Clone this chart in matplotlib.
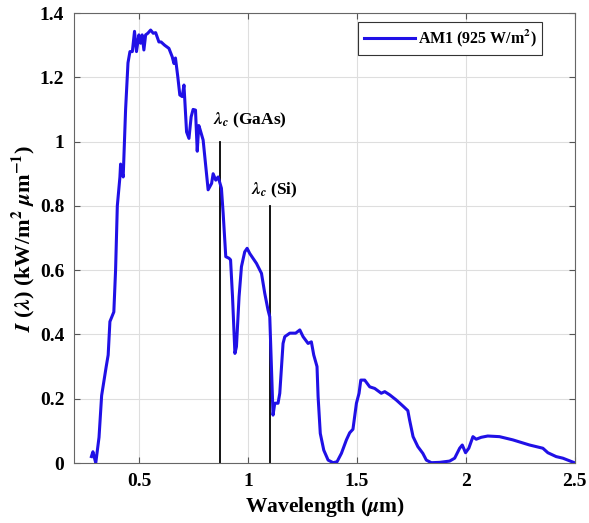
import matplotlib.pyplot as plt
import numpy as np

# AM1 spectrum (wavelength in um, irradiance in kW/m^2/um)
wl = [0.280, 0.287, 0.300, 0.315, 0.327, 0.348, 0.357, 0.365, 0.383, 0.391, 0.399,
      0.411, 0.414, 0.419, 0.426, 0.437, 0.448, 0.457, 0.468, 0.478, 0.487, 0.498,
      0.506, 0.513, 0.521, 0.529, 0.539, 0.552, 0.564, 0.575, 0.590, 0.600, 0.616,
      0.636, 0.651, 0.659, 0.666, 0.677, 0.686, 0.697, 0.705, 0.717, 0.728, 0.738,
      0.747, 0.758, 0.766, 0.773, 0.778, 0.793, 0.816, 0.832, 0.839, 0.851, 0.862,
      0.877, 0.885, 0.897, 0.912, 0.919, 0.928, 0.939, 0.946, 0.958, 0.969, 0.984,
      0.995, 1.007, 1.022, 1.038, 1.061, 1.076, 1.091, 1.099, 1.107, 1.114, 1.122,
      1.137, 1.145, 1.160, 1.168, 1.191, 1.218, 1.237, 1.252, 1.275, 1.290, 1.301,
      1.316, 1.321, 1.331, 1.347, 1.367, 1.390, 1.408, 1.428, 1.451, 1.466, 1.481,
      1.497, 1.509, 1.517, 1.535, 1.558, 1.581, 1.611, 1.627, 1.650, 1.680, 1.711,
      1.733, 1.741, 1.757, 1.779, 1.802, 1.818, 1.841, 1.879, 1.925, 1.948, 1.971,
      1.983, 1.998, 2.013, 2.032, 2.047, 2.070, 2.100, 2.154, 2.215, 2.292, 2.353,
      2.376, 2.414, 2.445, 2.475, 2.494]
irr = [0.020, 0.035, 0.000, 0.080, 0.210, 0.300, 0.336, 0.440, 0.470, 0.600, 0.800,
       0.890, 0.930, 0.910, 0.890, 1.100, 1.245, 1.280, 1.280, 1.343, 1.280, 1.332,
       1.306, 1.332, 1.285, 1.332, 1.337, 1.347, 1.337, 1.339, 1.310, 1.310, 1.300,
       1.290, 1.264, 1.243, 1.260, 1.200, 1.145, 1.140, 1.176, 1.030, 1.010, 1.077,
       1.100, 1.098, 0.970, 1.050, 1.040, 1.005, 0.850, 0.870, 0.900, 0.880, 0.890,
       0.855, 0.777, 0.642, 0.637, 0.632, 0.517, 0.341, 0.362, 0.517, 0.611, 0.657,
       0.668, 0.652, 0.637, 0.621, 0.590, 0.528, 0.476, 0.455, 0.289, 0.149, 0.186,
       0.186, 0.217, 0.372, 0.393, 0.404, 0.404, 0.414, 0.393, 0.372, 0.377, 0.336,
       0.300, 0.206, 0.092, 0.040, 0.009, 0.001, 0.004, 0.030, 0.072, 0.094, 0.105,
       0.186, 0.217, 0.258, 0.258, 0.237, 0.232, 0.217, 0.222, 0.212, 0.196, 0.177,
       0.163, 0.134, 0.082, 0.051, 0.030, 0.009, 0.001, 0.002, 0.006, 0.015, 0.046,
       0.056, 0.032, 0.046, 0.082, 0.074, 0.080, 0.084, 0.082, 0.072, 0.056, 0.046,
       0.032, 0.020, 0.015, 0.007, 0.002]

# band-gap cut-off wavelengths and marker heights
cut_gaas, h_gaas = 0.87, 1.0
cut_si, h_si = 1.1, 0.8

plt.rcParams['font.family'] = 'Liberation Serif'
plt.rcParams['font.weight'] = 'bold'
plt.rcParams['mathtext.fontset'] = 'stix'

fig = plt.figure(figsize=(5.89, 5.23), dpi=100)
ax = fig.add_axes([0.1256, 0.1147, 0.8504, 0.8604])

ax.plot(wl, irr, color='#2010e6', lw=2.2, label=r'AM1 (925 W/m$^{\mathbf{2}}$)', zorder=3)
ax.plot([cut_gaas, cut_gaas], [0, h_gaas], color='black', lw=1.3, zorder=2)
ax.plot([cut_si, cut_si], [0, h_si], color='black', lw=1.3, zorder=2)
ax.text(0.838, 1.055, r'$\lambda_c$ (GaAs)', fontsize=12.5, fontweight='bold')
ax.text(1.015, 0.835, r'$\lambda_c$ (Si)', fontsize=12.5, fontweight='bold')

ax.set_xlim(0.2, 2.5)
ax.set_ylim(0, 1.4)
ax.set_xticks([0.5, 1, 1.5, 2, 2.5])
ax.set_xticklabels(['0.5', '1', '1.5', '2', '2.5'])
ax.set_yticks([0, 0.2, 0.4, 0.6, 0.8, 1, 1.2, 1.4])
ax.set_yticklabels(['0', '0.2', '0.4', '0.6', '0.8', '1', '1.2', '1.4'])
ax.tick_params(direction='in', top=True, right=True, labelsize=14, length=4,
               color='#555555', width=0.8, pad=7)
for lab in ax.get_xticklabels() + ax.get_yticklabels():
    lab.set_fontweight('bold')
for s in ax.spines.values():
    s.set_color('#666666')
    s.set_linewidth(0.8)
ax.grid(color='#dedede', lw=0.8)

ax.set_xlabel(r'Wavelength ($\mu$m)', fontsize=15.5, fontweight='bold', labelpad=4)
ax.set_ylabel(r'$\mathbfit{I}$ ($\lambda$) (kW/m$^{\mathbf{2}}$ $\mu$m$^{\mathbf{-1}}$)',
              fontsize=16, fontweight='bold', labelpad=2)

leg = ax.legend(loc='upper right', bbox_to_anchor=(0.935, 0.98), fancybox=False,
                framealpha=1, edgecolor='#333333', fontsize=11.5, handlelength=3.2,
                borderpad=0.35, handletextpad=0.2, borderaxespad=0)
leg.get_frame().set_linewidth(0.8)

fig.savefig('out.png', dpi=100)
